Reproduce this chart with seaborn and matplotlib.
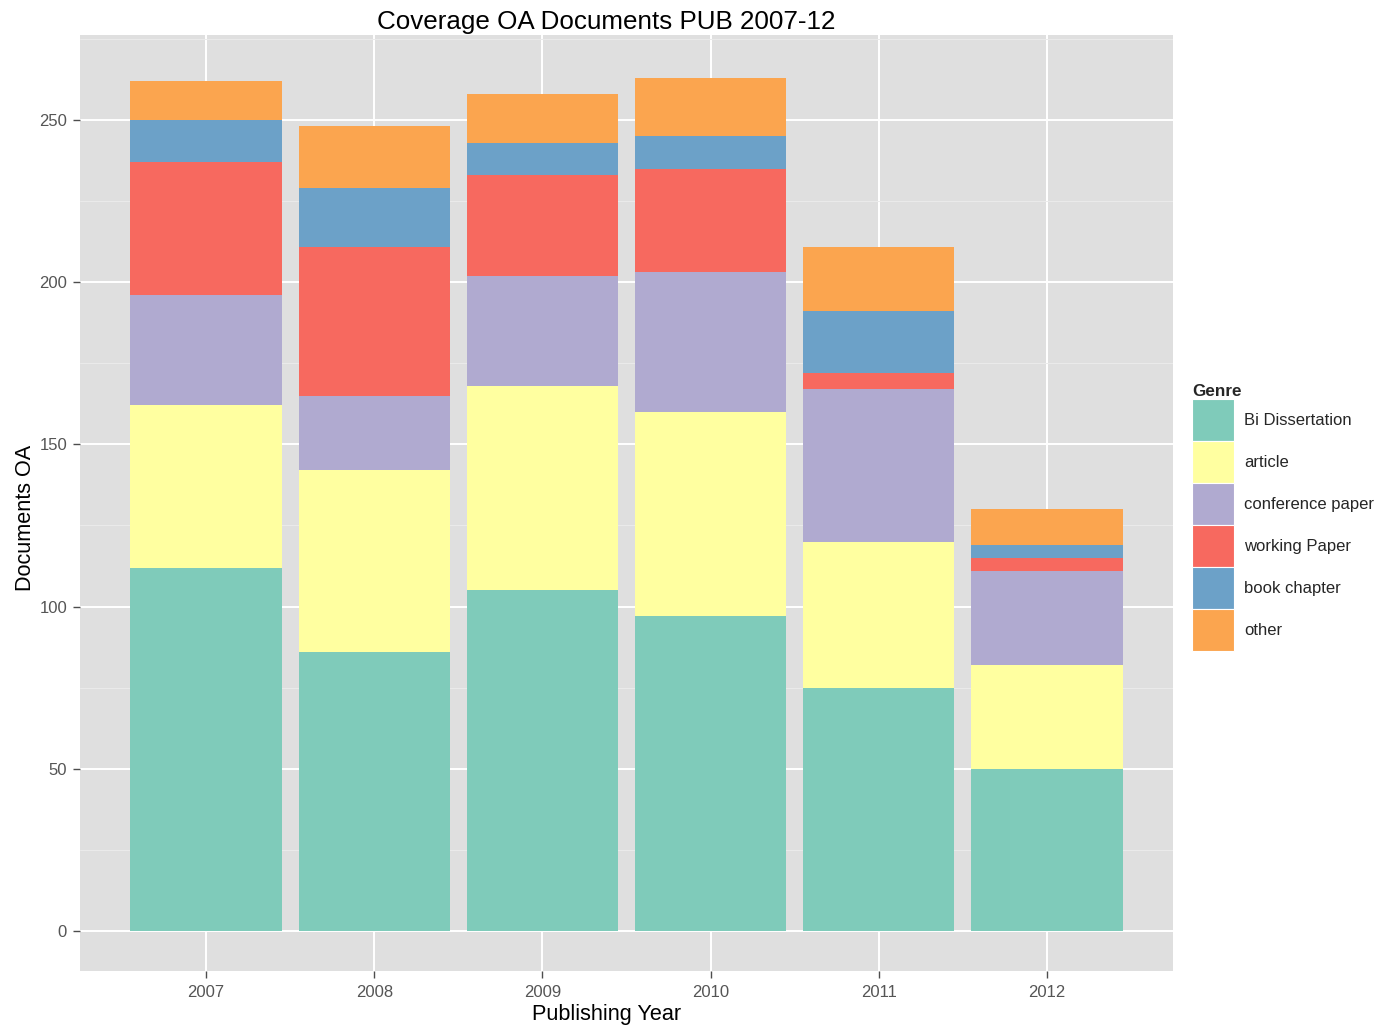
import numpy as np
import pandas as pd
import matplotlib
matplotlib.use("Agg")
import matplotlib.pyplot as plt
from matplotlib.patches import Patch
from matplotlib.ticker import MultipleLocator
import seaborn as sns

years = ["2007", "2008", "2009", "2010", "2011", "2012"]
genres = ["Bi Dissertation", "article", "conference paper", "working Paper", "book chapter", "other"]
bi_dissertation = [112, 86, 105, 97, 75, 50]
article = [50, 56, 63, 63, 45, 32]
conference_paper = [34, 23, 34, 43, 47, 29]
working_paper = [41, 46, 31, 32, 5, 4]
book_chapter = [13, 18, 10, 10, 19, 4]
other = [12, 19, 15, 18, 20, 11]
colors = ["#7FCBBA", "#FFFFA0", "#B0AAD0", "#F7695F", "#6CA1C8", "#FBA54F"]

series = [bi_dissertation, article, conference_paper, working_paper, book_chapter, other]
cum = np.cumsum(np.array(series), axis=0)

sns.set_theme(style="darkgrid")
plt.rcParams["font.family"] = ["Liberation Sans", "DejaVu Sans"]

fig = plt.figure(figsize=(13.86, 10.28), dpi=100)
ax = fig.add_axes([80/1386, 1 - 971/1028, (1173-80)/1386, (971-35)/1028])
ax.set_facecolor("#DFDFDF")

# draw from the top of the stack downward so lower segments overlay
for i in range(len(genres) - 1, -1, -1):
    df = pd.DataFrame({"year": years, "value": cum[i]})
    sns.barplot(data=df, x="year", y="value", color=colors[i], saturation=1,
                width=0.9, ax=ax, linewidth=0, errorbar=None, zorder=3)

ax.set_xlim(-0.75, 5.75)
ax.set_ylim(-12.33, 276.2)
ax.yaxis.set_major_locator(MultipleLocator(50))
ax.yaxis.set_minor_locator(MultipleLocator(25))
ax.grid(True, which="major", color="white", linewidth=1.4, zorder=0)
ax.grid(True, which="minor", axis="y", color="#EBEBEB", linewidth=0.7, zorder=0)
ax.set_axisbelow(True)
for s in ax.spines.values():
    s.set_visible(False)

ax.tick_params(axis="both", which="major", length=5, width=1, color="#4D4D4D",
               labelcolor="#555555", labelsize=12, left=True, bottom=True)
ax.tick_params(axis="y", which="major", pad=4.3)
ax.tick_params(axis="x", which="major", pad=5)
ax.tick_params(axis="y", which="minor", length=0)

ax.set_xlabel("Publishing Year", fontsize=15.6, color="black")
ax.set_ylabel("Documents OA", fontsize=15.6, color="black")
ax.xaxis.set_label_coords((606.5-80)/1093, (971-1004)/936)
ax.yaxis.set_label_coords((36.5-80)/1093, (971-517.5)/936)
ax.set_title("Coverage OA Documents PUB 2007-12", fontsize=18.7, color="black",
             x=(606.5-80)/1093, pad=4)

handles = [Patch(facecolor=c, edgecolor="white", linewidth=0.8, label=g) for g, c in zip(genres, colors)]
leg = fig.legend(handles=handles, title="Genre", loc="upper left",
                 bbox_to_anchor=(1192/1386, 1 - 384/1028), frameon=False,
                 fontsize=12, title_fontsize=12.3, handlelength=2.52, handleheight=3.5,
                 labelspacing=0, handletextpad=0.6, borderaxespad=0, borderpad=0)
leg.get_title().set_fontweight("bold")
leg._legend_box.align = "left"

fig.savefig("out.png", dpi=100)
